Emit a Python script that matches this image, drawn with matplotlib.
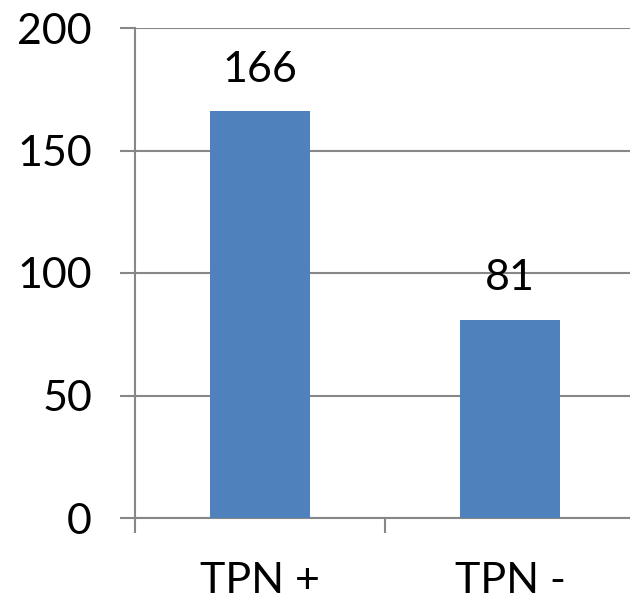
import matplotlib
matplotlib.use("Agg")
import matplotlib.pyplot as plt
from matplotlib.ticker import FixedLocator

categories = ["TPN +", "TPN -"]
values = [166, 81]
y_ticks = [0, 50, 100, 150, 200]

grey = "#878787"
bar_color = "#4f81bd"

plt.rcParams["font.family"] = ["Lato", "DejaVu Sans"]

fig = plt.figure(figsize=(6.3, 6.0), dpi=100)
ax = fig.add_axes([135 / 630, 82 / 600, 500 / 630, 490 / 600])

x = list(range(len(categories)))
bars = ax.bar(x, values, width=0.4, color=bar_color, zorder=3)

for xi, v in zip(x, values):
    ax.annotate(str(v), (xi, v), xytext=(0, 16), textcoords="offset points",
                ha="center", va="bottom", fontsize=31, color="black")

ax.set_xlim(-0.5, len(categories) - 0.5)
ax.set_ylim(0, 200)
ax.set_yticks(y_ticks)
ax.set_xticks(x)
ax.set_xticklabels(categories)
ax.xaxis.set_minor_locator(FixedLocator([i - 0.5 for i in range(len(categories) + 1)]))

ax.yaxis.grid(True, color=grey, linewidth=1.5, zorder=0)
for side in ["top", "right"]:
    ax.spines[side].set_visible(False)
for side in ["left", "bottom"]:
    ax.spines[side].set_color(grey)
    ax.spines[side].set_linewidth(1.5)

ax.tick_params(axis="y", direction="out", length=11, width=1.5, color=grey,
               labelsize=31, pad=20)
ax.tick_params(axis="x", which="major", length=0, labelsize=31, pad=32)
ax.tick_params(axis="x", which="minor", direction="out", length=11, width=1.5, color=grey)

fig.savefig("out.png", dpi=100)
